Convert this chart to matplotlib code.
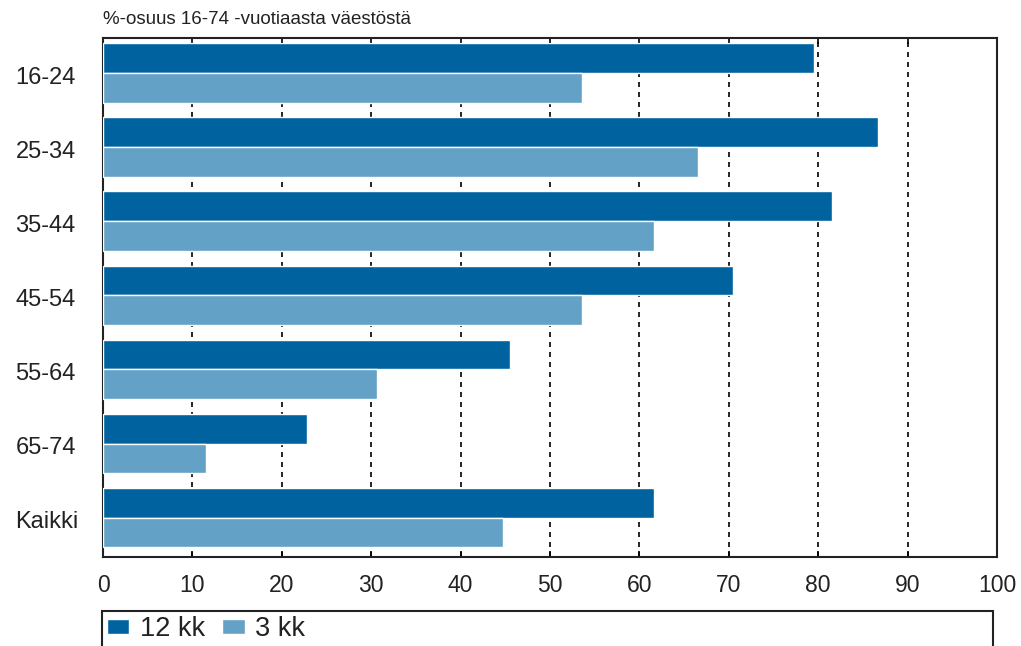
import numpy as np
import matplotlib.pyplot as plt
from matplotlib.patches import Rectangle

# data
groups = ['16-24', '25-34', '35-44', '45-54', '55-64', '65-74', 'Kaikki']
kk12 = [79.5, 86.7, 81.5, 70.5, 45.5, 22.8, 61.6]
kk3 = [53.6, 66.6, 61.6, 53.6, 30.6, 11.5, 44.7]
series_names = ['12 kk', '3 kk']
xticks = list(range(0, 101, 10))
title = '%-osuus 16-74 -vuotiaasta väestöstä'

dark = '#0063a0'
light = '#63a1c6'

plt.rcParams['font.family'] = ['Liberation Sans', 'DejaVu Sans']

fig = plt.figure(figsize=(10.21, 6.46), dpi=100)
ax = fig.add_axes([103 / 1021, 89 / 646, 894 / 1021, 519 / 646])

y = np.arange(len(groups))
h = 0.4
b1 = ax.barh(y - 0.23, kk12, height=h, color=dark, edgecolor='white', linewidth=1.0, zorder=3)
b2 = ax.barh(y + 0.17, kk3, height=h, color=light, edgecolor='white', linewidth=1.0, zorder=3)

ax.set_xlim(0, 100)
ax.set_ylim(len(groups) - 0.5, -0.5)
ax.set_xticks(xticks)
ax.set_xticklabels([str(t) for t in xticks], fontsize=16.5, color='#222222')
ax.set_yticks(y)
ax.set_yticklabels(groups, fontsize=17, color='#222222', ha='left')
ax.tick_params(axis='x', direction='in', length=4, width=1.2, top=True, pad=12)
ax.tick_params(axis='y', length=0, pad=63)

ax.grid(axis='x', color='black', linestyle=(0, (3, 3)), linewidth=1.2, zorder=1)
for s in ax.spines.values():
    s.set_linewidth(1.5)
    s.set_color('#222222')

fig.text(103 / 1021, 1 - 19 / 646, title, fontsize=13.5, va='center', ha='left',
         color='#222222')

# legend box at the bottom
fig.patches.append(Rectangle((102 / 1021, -0.05), 891 / 1021, 0.05 + (646 - 611) / 646,
                             transform=fig.transFigure, fill=False, edgecolor='#222222',
                             linewidth=1.5))
leg = fig.legend([b1, b2], series_names, loc='center left', ncol=2, frameon=False,
                 bbox_to_anchor=(107 / 1021, 1 - 629 / 646), fontsize=19.5,
                 handlelength=0.83, handleheight=0.45, handletextpad=0.38, columnspacing=0.64,
                 borderaxespad=0, borderpad=0.0)
for t in leg.get_texts():
    t.set_color('#222222')

fig.savefig('out.png', dpi=100)
